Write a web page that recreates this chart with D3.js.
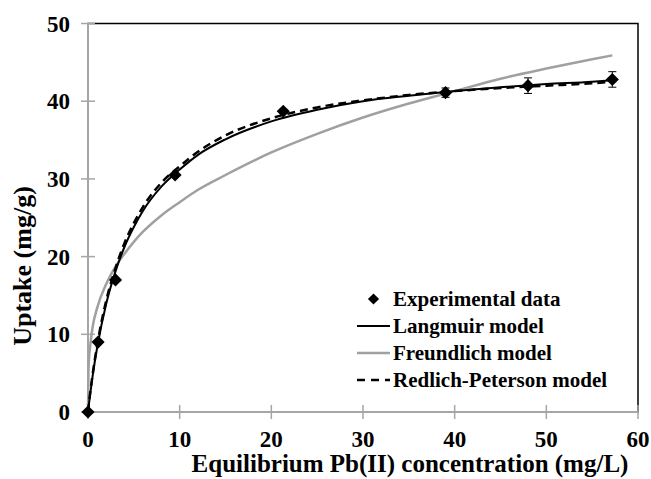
<!DOCTYPE html>
<html><head><meta charset="utf-8">
<script src="https://cdn.jsdelivr.net/npm/d3@7"></script>
<style>html,body{margin:0;padding:0;background:#fff;} svg{display:block;}</style>
</head><body>
<svg id="c" width="651" height="479"></svg>
<script>
// Data
const xTicks = [0,10,20,30,40,50,60];
const yTicks = [0,10,20,30,40,50];
const expC = [0, 1.1, 3.0, 9.5, 21.3, 39.0, 48.0, 57.2];
const expQ = [0, 9.0, 17.0, 30.5, 38.7, 41.1, 42.0, 42.8];
const expErr = [0, 0, 0, 0, 0, 0.6, 1.0, 1.0];
const modelC = [0, 0.05, 0.1, 0.25, 0.5, 1, 2, 3, 4, 5, 6, 8, 10, 12, 15, 20, 25, 30, 35, 40, 45, 50, 55, 57.2];
const langQ = [0, 0.5, 1.0, 2.4, 4.6, 8.3, 14.0, 18.1, 21.3, 23.8, 25.9, 29.0, 31.2, 33.1, 35.1, 37.4, 38.9, 40.0, 40.7, 41.3, 41.8, 42.2, 42.5, 42.7];
const freuQ = [0, 5.4, 6.7, 8.6, 10.9, 13.4, 16.5, 18.7, 20.4, 21.9, 23.2, 25.3, 27.0, 28.6, 30.5, 33.4, 35.8, 37.9, 39.7, 41.3, 42.9, 44.2, 45.4, 45.9];
const rpQ = [0, 0.5, 1.1, 2.6, 4.8, 8.6, 14.4, 18.5, 21.8, 24.3, 26.4, 29.5, 31.6, 33.5, 35.6, 37.8, 39.2, 40.1, 40.8, 41.3, 41.7, 42.0, 42.3, 42.5];
const legendLabels = ["Experimental data","Langmuir model","Freundlich model","Redlich-Peterson model"];

const svg = d3.select("#c");
const L = 88, R = 638, T = 23.5, B = 412;
const x = d3.scaleLinear().domain([0,60]).range([L,R]);
const y = d3.scaleLinear().domain([0,50]).range([B,T]);
const font = "'Liberation Serif','Times New Roman',serif";
const axisGray = "#a6a6a6";

// plot area border
svg.append("rect").attr("x",L).attr("y",T).attr("width",R-L).attr("height",B-T)
  .attr("fill","none").attr("stroke","#000").attr("stroke-width",1.5);

// axes (gray, cross ticks)
const gx = svg.append("g");
gx.append("line").attr("x1",L).attr("x2",R).attr("y1",B).attr("y2",B).attr("stroke",axisGray).attr("stroke-width",2);
gx.selectAll("line.t").data(xTicks).enter().append("line").attr("class","t")
  .attr("x1",d=>x(d)).attr("x2",d=>x(d)).attr("y1",B-7).attr("y2",B+7).attr("stroke",axisGray).attr("stroke-width",1.5);
gx.selectAll("text").data(xTicks).enter().append("text")
  .attr("x",d=>x(d)).attr("y",447).attr("text-anchor","middle")
  .attr("font-family",font).attr("font-weight","bold").attr("font-size",23).text(d=>d);

const gy = svg.append("g");
gy.append("line").attr("x1",L).attr("x2",L).attr("y1",B).attr("y2",T).attr("stroke",axisGray).attr("stroke-width",2);
gy.selectAll("line.t").data(yTicks).enter().append("line").attr("class","t")
  .attr("x1",L-7).attr("x2",L+7).attr("y1",d=>y(d)).attr("y2",d=>y(d)).attr("stroke",axisGray).attr("stroke-width",1.5);
gy.selectAll("text").data(yTicks).enter().append("text")
  .attr("x",70).attr("y",d=>y(d)+8).attr("text-anchor","end")
  .attr("font-family",font).attr("font-weight","bold").attr("font-size",23).text(d=>d);

// axis titles
svg.append("text").attr("x",410).attr("y",472).attr("text-anchor","middle")
  .attr("font-family",font).attr("font-weight","bold").attr("font-size",25)
  .text("Equilibrium Pb(II) concentration (mg/L)");
svg.append("text").attr("transform","translate(31,266) rotate(-90)").attr("text-anchor","middle")
  .attr("font-family",font).attr("font-weight","bold").attr("font-size",26)
  .text("Uptake (mg/g)");

// curves
const line = (qs) => d3.line().x((d,i)=>x(modelC[i])).y(d=>y(d)).curve(d3.curveMonotoneX)(qs);
svg.append("path").attr("d",line(freuQ)).attr("fill","none").attr("stroke","#a0a0a0").attr("stroke-width",2.5);
svg.append("path").attr("d",line(langQ)).attr("fill","none").attr("stroke","#000").attr("stroke-width",2);
svg.append("path").attr("d",line(rpQ)).attr("fill","none").attr("stroke","#000").attr("stroke-width",2.5).attr("stroke-dasharray","8,5");

// error bars
const eg = svg.append("g").attr("stroke","#000").attr("stroke-width",1);
expC.forEach((c,i)=>{
  if(!expErr[i]) return;
  eg.append("line").attr("x1",x(c)).attr("x2",x(c)).attr("y1",y(expQ[i]-expErr[i])).attr("y2",y(expQ[i]+expErr[i]));
  [expQ[i]-expErr[i], expQ[i]+expErr[i]].forEach(v=>{
    eg.append("line").attr("x1",x(c)-4).attr("x2",x(c)+4).attr("y1",y(v)).attr("y2",y(v));
  });
});

// diamonds
const diamond = d3.symbol().type(d3.symbolDiamond2).size(110);
svg.selectAll("path.pt").data(expC).enter().append("path").attr("class","pt")
  .attr("transform",(d,i)=>`translate(${x(d)},${y(expQ[i])})`)
  .attr("d",diamond).attr("fill","#000");

// legend
const lg = svg.append("g");
const ly = [299, 326, 353, 380];
const lx0 = 357, lx1 = 390, tx = 393;
lg.append("path").attr("transform",`translate(${(lx0+lx1)/2},${ly[0]})`).attr("d",d3.symbol().type(d3.symbolDiamond2).size(80)).attr("fill","#000");
lg.append("line").attr("x1",lx0).attr("x2",lx1).attr("y1",ly[1]).attr("y2",ly[1]).attr("stroke","#000").attr("stroke-width",2);
lg.append("line").attr("x1",lx0).attr("x2",lx1).attr("y1",ly[2]).attr("y2",ly[2]).attr("stroke","#a0a0a0").attr("stroke-width",2.5);
lg.append("line").attr("x1",lx0).attr("x2",lx1).attr("y1",ly[3]).attr("y2",ly[3]).attr("stroke","#000").attr("stroke-width",2.5).attr("stroke-dasharray","8,6");
lg.selectAll("text").data(legendLabels).enter().append("text")
  .attr("x",tx).attr("y",(d,i)=>ly[i]+7)
  .attr("font-family",font).attr("font-weight","bold").attr("font-size",21).text(d=>d);
</script>
</body></html>
